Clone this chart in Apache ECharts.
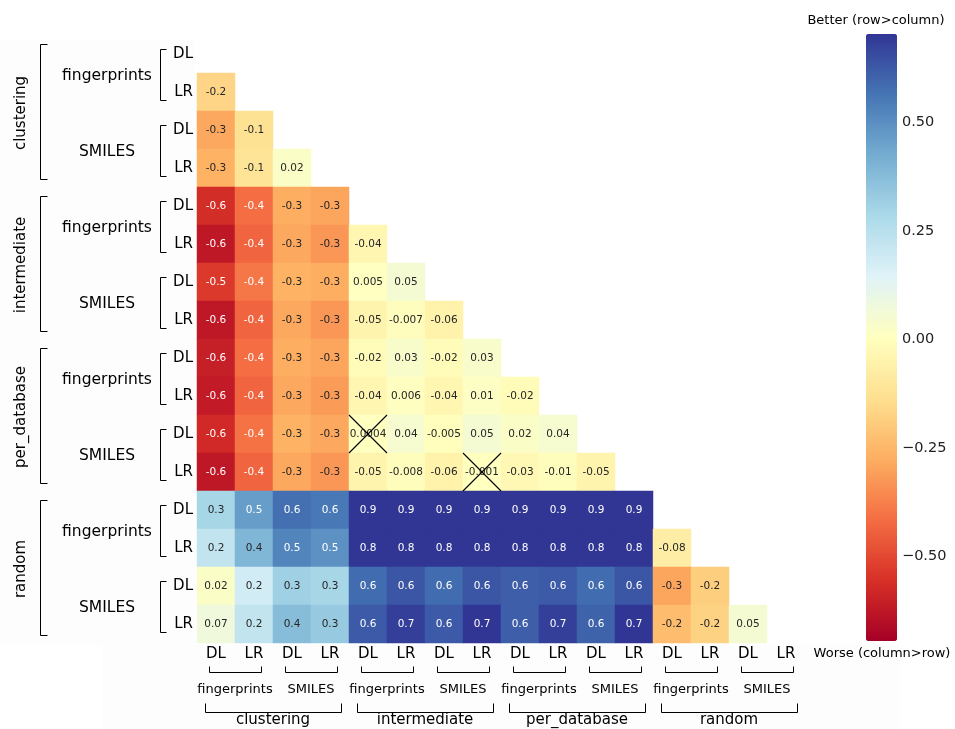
<!DOCTYPE html>
<html>
<head>
<meta charset="utf-8">
<script src="https://cdn.jsdelivr.net/npm/echarts@6/dist/echarts.min.js"></script>
<style>
html, body { margin: 0; padding: 0; background: #fff; }
#chart { width: 955px; height: 729px; }
</style>
</head>
<body>
<div id="chart"></div>
<script>
const splits = ['clustering', 'intermediate', 'per_database', 'random']
const features = ['fingerprints', 'SMILES']
const models = ['DL', 'LR']

// lower triangle: row i holds the columns 0..i-1 (row minus column)
const values = [
  [],
  [-0.17],
  [-0.29, -0.13],
  [-0.27, -0.12, 0.02],
  [-0.57, -0.42, -0.28, -0.30],
  [-0.63, -0.44, -0.29, -0.33, -0.04],
  [-0.54, -0.40, -0.27, -0.28, 0.005, 0.05],
  [-0.63, -0.44, -0.29, -0.33, -0.05, -0.007, -0.06],
  [-0.61, -0.42, -0.28, -0.30, -0.02, 0.03, -0.02, 0.03],
  [-0.62, -0.44, -0.29, -0.32, -0.04, 0.006, -0.04, 0.01, -0.02],
  [-0.58, -0.41, -0.27, -0.29, 0.0004, 0.04, -0.005, 0.05, 0.02, 0.04],
  [-0.63, -0.44, -0.29, -0.33, -0.05, -0.008, -0.06, -0.001, -0.03, -0.01, -0.05],
  [0.29, 0.46, 0.57, 0.55, 0.9, 0.9, 0.9, 0.9, 0.9, 0.9, 0.9, 0.9],
  [0.22, 0.39, 0.52, 0.49, 0.8, 0.8, 0.8, 0.8, 0.8, 0.8, 0.8, 0.8, -0.08],
  [0.02, 0.18, 0.31, 0.29, 0.58, 0.63, 0.58, 0.63, 0.61, 0.62, 0.58, 0.63, -0.30, -0.19],
  [0.07, 0.22, 0.37, 0.33, 0.62, 0.68, 0.62, 0.70, 0.61, 0.68, 0.60, 0.70, -0.24, -0.18, 0.05]
]
// cells marked with a cross, [column, row]
const crossed = [[4, 10], [7, 11]]

const cbarTicks = [-0.5, -0.25, 0, 0.25, 0.5]
const vMin = -0.7
const vMax = 0.7
const palette = ['#a50026', '#d73027', '#f46d43', '#fdae61', '#fee090', '#ffffbf',
  '#e0f3f8', '#abd9e9', '#74add1', '#4575b4', '#313695']

const FONT = '"DejaVu Sans", sans-serif'
const cellLabels = splits.flatMap(() => features.flatMap(() => models))

// colour lookup, only used to pick dark or white annotation text
const hex = h => [1, 3, 5].map(i => parseInt(h.slice(i, i + 2), 16))
const colorAt = v => {
  const t = (Math.min(vMax, Math.max(vMin, v)) - vMin) / (vMax - vMin) * (palette.length - 1)
  const i = Math.min(palette.length - 2, Math.floor(t))
  const f = t - i
  const a = hex(palette[i]), b = hex(palette[i + 1])
  return a.map((c, k) => c + (b[k] - c) * f)
}
const textColor = v => {
  const lin = colorAt(v).map(c => {
    c /= 255
    return c <= 0.03928 ? c / 12.92 : Math.pow((c + 0.055) / 1.055, 2.4)
  })
  const lum = 0.2126 * lin[0] + 0.7152 * lin[1] + 0.0722 * lin[2]
  return lum > 0.408 ? '#262626' : '#ffffff'
}
const fmt = v => Number(v.toPrecision(1)).toString()

const heatData = values.flatMap((row, i) => row.map((v, j) => ({
  value: [j, i, v],
  label: { color: textColor(v) }
})))

const chart = echarts.init(document.getElementById('chart'))

chart.setOption({
  animation: false,
  backgroundColor: '#fff',
  grid: [
    { left: 197, top: 35, width: 608, height: 608 },
    { left: 866, top: 36, width: 31, height: 607 }
  ],
  xAxis: [
    {
      type: 'category', gridIndex: 0, data: cellLabels, position: 'bottom',
      axisLine: { show: false }, axisTick: { show: false }, splitLine: { show: false },
      axisLabel: { interval: 0, margin: 4, color: '#000', fontSize: 15, fontFamily: FONT }
    },
    { type: 'value', gridIndex: 1, show: false, min: 0, max: 1 }
  ],
  yAxis: [
    {
      type: 'category', gridIndex: 0, data: cellLabels, inverse: true,
      axisLine: { show: false }, axisTick: { show: false }, splitLine: { show: false },
      axisLabel: { interval: 0, margin: 4, color: '#000', fontSize: 15, fontFamily: FONT }
    },
    {
      type: 'value', gridIndex: 1, min: vMin, max: vMax, position: 'right',
      axisLine: { show: false }, axisTick: { show: false }, splitLine: { show: false },
      axisLabel: {
        customValues: cbarTicks, margin: 5, color: '#222', fontSize: 14.5, fontFamily: FONT,
        formatter: v => (v < 0 ? '\u2212' : '') + Math.abs(v).toFixed(2)
      }
    }
  ],
  visualMap: {
    type: 'continuous', min: vMin, max: vMax, seriesIndex: 0,
    calculable: false, hoverLink: false, orient: 'vertical',
    left: 866, top: 34, itemWidth: 31, itemHeight: 607, padding: 0,
    text: null, showLabel: false,
    inRange: { color: palette },
    outOfRange: { color: palette[palette.length - 1] }
  },
  series: [
    {
      type: 'heatmap', xAxisIndex: 0, yAxisIndex: 0, data: heatData,
      itemStyle: { borderWidth: 0 },
      label: { show: true, fontSize: 10.5, fontFamily: FONT, formatter: p => fmt(p.value[2]) },
      emphasis: { disabled: true }
    },
    {
      type: 'custom', xAxisIndex: 0, yAxisIndex: 0, data: crossed, z: 5, silent: true,
      renderItem: (params, api) => {
        const c = api.coord([api.value(0), api.value(1)])
        const s = api.size([1, 1])
        const x0 = c[0] - s[0] / 2, x1 = c[0] + s[0] / 2
        const y0 = c[1] - s[1] / 2, y1 = c[1] + s[1] / 2
        const st = { stroke: '#000', lineWidth: 1.1 }
        return {
          type: 'group',
          children: [
            { type: 'line', shape: { x1: x0, y1: y0, x2: x1, y2: y1 }, style: st },
            { type: 'line', shape: { x1: x0, y1: y1, x2: x1, y2: y0 }, style: st }
          ]
        }
      }
    }
  ]
})

// hierarchical group labels and brackets
const cx = i => chart.convertToPixel({ gridIndex: 0 }, [i, 0])[0]
const cy = i => chart.convertToPixel({ gridIndex: 0 }, [0, i])[1]
const line = pts => ({
  type: 'polyline', silent: true,
  shape: { points: pts.map(p => [Math.round(p[0]) + 0.5, Math.round(p[1]) + 0.5]) },
  style: { stroke: '#000', lineWidth: 1, fill: null }
})
const label = (text, x, y, size, rot) => ({
  type: 'text', silent: true, x, y, rotation: rot || 0,
  style: {
    text, x: 0, y: 0, fill: '#000', font: size + 'px ' + FONT,
    align: 'center', verticalAlign: 'middle', textAlign: 'center', textVerticalAlign: 'middle'
  }
})

const g = [
  { type: 'rect', silent: true, z: -10, shape: { x: 0, y: 40, width: 195, height: 605 }, style: { fill: '#fdfdfd' } },
  { type: 'rect', silent: true, z: -10, shape: { x: 102, y: 645, width: 798, height: 84 }, style: { fill: '#fdfdfd' } }
]

splits.forEach((s, si) => {
  const a = si * 4, b = si * 4 + 3
  // left
  const y0 = cy(a) - 10, y1 = cy(b) + 11
  g.push(line([[47, y0], [40, y0], [40, y1], [47, y1]]))
  g.push(label(s, 21, (cy(a) + cy(b)) / 2 + 2, 15, Math.PI / 2))
  // bottom
  const x0 = cx(a) - 11, x1 = cx(b) + 11
  g.push(line([[x0, 703], [x0, 712], [x1, 712], [x1, 703]]))
  g.push(label(s, (cx(a) + cx(b)) / 2, 720.5, 15))
  features.forEach((f, fi) => {
    const p = a + fi * 2, q = p + 1
    const ya = cy(p) - 5, yb = cy(q) + 8
    g.push(line([[166, ya], [160, ya], [160, yb], [166, yb]]))
    g.push(label(f, 107, (cy(p) + cy(q)) / 2 + 3, 15.5))
    const xa = cx(p) - 7, xb = cx(q) + 7
    g.push(line([[xa, 666], [xa, 672], [xb, 672], [xb, 666]]))
    g.push(label(f, (cx(p) + cx(q)) / 2, 690, 13))
  })
})

g.push(label('Better (row>column)', 876, 21, 13))
g.push(label('Worse (column>row)', 882, 654, 13))

chart.setOption({ graphic: g })
</script>
</body>
</html>
